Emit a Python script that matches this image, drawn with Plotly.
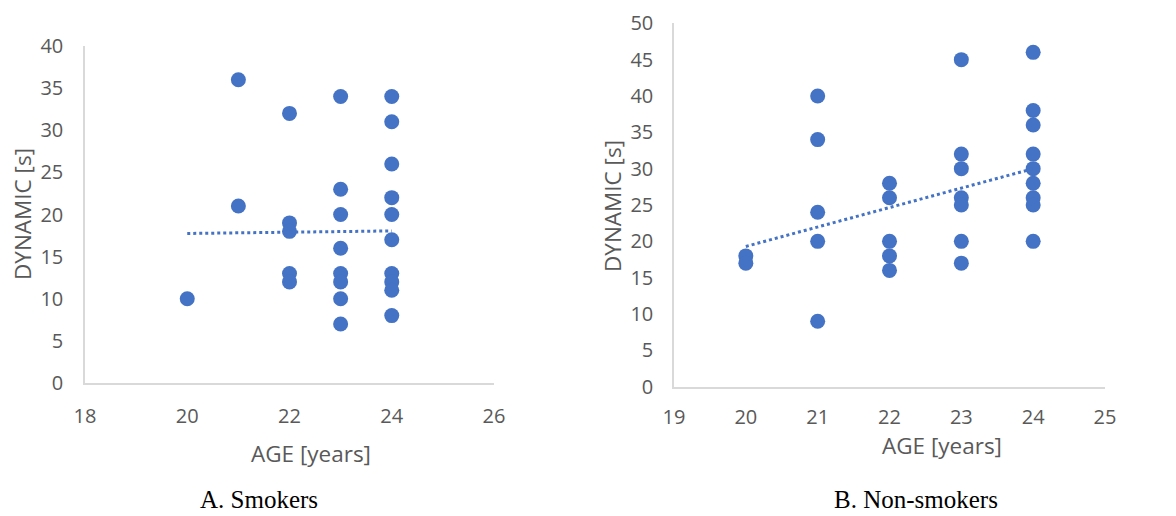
import plotly.graph_objects as go

# Smokers: age [years] vs dynamic time [s]
smk_age = [20, 21, 21, 22, 22, 22, 22, 22, 23, 23, 23, 23, 23, 23, 23, 23,
           24, 24, 24, 24, 24, 24, 24, 24, 24, 24]
smk_dyn = [10, 36, 21, 32, 19, 18, 13, 12, 34, 23, 20, 16, 13, 12, 10, 7,
           34, 31, 26, 22, 20, 17, 13, 12, 11, 8]
smk_trend_age = [20, 24]
smk_trend_dyn = [17.75, 18.05]

# Non-smokers
non_age = [20, 20, 21, 21, 21, 21, 21, 22, 22, 22, 22, 22,
           23, 23, 23, 23, 23, 23, 23, 24, 24, 24, 24, 24, 24, 24, 24, 24]
non_dyn = [18, 17, 40, 34, 24, 20, 9, 28, 26, 20, 18, 16,
           45, 32, 30, 26, 25, 20, 17, 46, 38, 36, 32, 30, 28, 26, 25, 20]
non_trend_age = [20, 24]
non_trend_dyn = [19.3, 30.0]

BLUE = "#4472C4"
GREY_TXT = "#595959"
AXIS_LINE = "#D9D9D9"
TICK_FONT = dict(family="Open Sans, Noto Sans, sans-serif", size=20, color=GREY_TXT)

fig = go.Figure()

fig.add_trace(go.Scatter(x=smk_age, y=smk_dyn, mode="markers",
                         marker=dict(size=15, color=BLUE), xaxis="x", yaxis="y",
                         showlegend=False))
fig.add_trace(go.Scatter(x=smk_trend_age, y=smk_trend_dyn, mode="lines",
                         line=dict(color=BLUE, width=3, dash="dot"),
                         xaxis="x", yaxis="y", showlegend=False))
fig.add_trace(go.Scatter(x=non_age, y=non_dyn, mode="markers",
                         marker=dict(size=15, color=BLUE), xaxis="x2", yaxis="y2",
                         showlegend=False))
fig.add_trace(go.Scatter(x=non_trend_age, y=non_trend_dyn, mode="lines",
                         line=dict(color=BLUE, width=3, dash="dot"),
                         xaxis="x2", yaxis="y2", showlegend=False))

W, H = 1176, 516


def px_x(p):
    return p / W


def px_y(p):
    return 1 - p / H


axis_common = dict(showgrid=False, zeroline=False, showline=True,
                   linecolor=AXIS_LINE, linewidth=1.5, ticks="",
                   tickfont=TICK_FONT, automargin=False)

fig.update_layout(
    width=W, height=H,
    margin=dict(l=0, r=0, t=0, b=0, autoexpand=False),
    paper_bgcolor="white", plot_bgcolor="white",
    xaxis=dict(axis_common, domain=[px_x(85), px_x(494)], range=[18, 26],
               tickvals=[18, 20, 22, 24, 26], anchor="y", ticklabelstandoff=14),
    yaxis=dict(axis_common, domain=[px_y(383), px_y(46)], range=[0, 40],
               tickvals=list(range(0, 41, 5)), anchor="x", ticklabelstandoff=16),
    xaxis2=dict(axis_common, domain=[px_x(674), px_x(1105)], range=[19, 25],
                tickvals=list(range(19, 26)), anchor="y2", ticklabelstandoff=12),
    yaxis2=dict(axis_common, domain=[px_y(386.7), px_y(23.3)], range=[0, 50],
                tickvals=list(range(0, 51, 5)), anchor="x2", ticklabelstandoff=15),
)

title_font = dict(family="Open Sans, Noto Sans, sans-serif", size=22.5, color=GREY_TXT)
caption_font = dict(family="Liberation Serif, Times New Roman, serif", size=25, color="black")

annotations = [
    dict(text="DYNAMIC [s]", x=px_x(22), y=px_y(214), textangle=-90, font=title_font),
    dict(text="AGE [years]", x=px_x(311), y=px_y(453), font=title_font),
    dict(text="DYNAMIC [s]", x=px_x(612), y=px_y(206), textangle=-90, font=title_font),
    dict(text="AGE [years]", x=px_x(942), y=px_y(445), font=title_font),
    dict(text="A. Smokers", x=px_x(259), y=px_y(499), font=caption_font),
    dict(text="B. Non-smokers", x=px_x(916), y=px_y(499), font=caption_font),
]
for a in annotations:
    fig.add_annotation(xref="paper", yref="paper", showarrow=False,
                       xanchor="center", yanchor="middle", **a)

fig.write_html("out.html")
